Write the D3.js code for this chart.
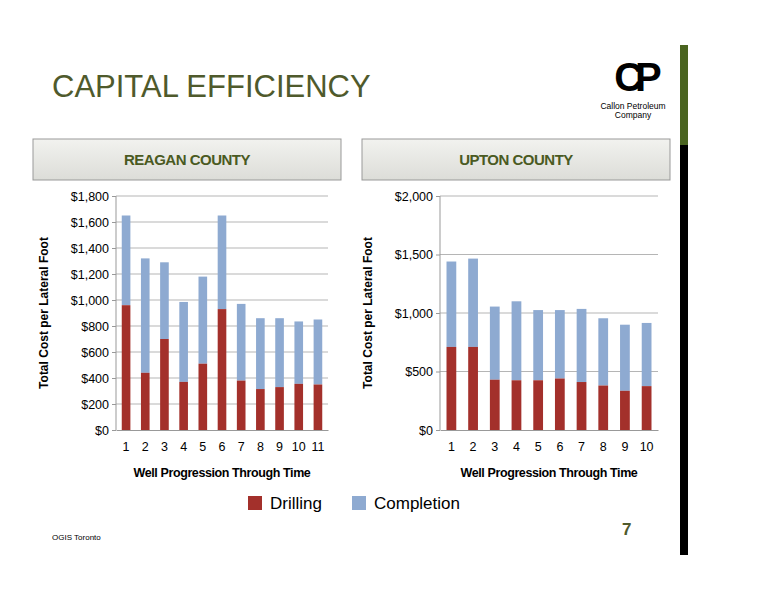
<!DOCTYPE html><html><head><meta charset="utf-8"><script src="https://d3js.org/d3.v7.min.js"></script>
<style>body{margin:0;background:#fff}svg{font-family:Arial,"Liberation Sans",sans-serif}</style></head><body><svg width="776" height="600"></svg>
<script>
const reaganWells=["1","2","3","4","5","6","7","8","9","10","11"];
const reaganDrilling=[960,440,700,370,510,930,380,315,330,355,350];
const reaganTotal=[1650,1320,1290,985,1180,1650,970,860,860,835,850];
const uptonWells=["1","2","3","4","5","6","7","8","9","10"];
const uptonDrilling=[710,710,430,425,425,440,410,380,335,375];
const uptonTotal=[1440,1465,1055,1100,1025,1025,1035,955,900,915];
const reaganTicks=[0,200,400,600,800,1000,1200,1400,1600,1800];
const uptonTicks=[0,500,1000,1500,2000];
const seriesNames=["Drilling","Completion"];
const colors=["#a3302b","#8eaad1"];

const svg=d3.select("svg");
svg.append("rect").attr("x",680).attr("y",45).attr("width",8).attr("height",100).attr("fill","#4a6420");
svg.append("rect").attr("x",680).attr("y",145).attr("width",8).attr("height",410).attr("fill","#000");
svg.append("text").attr("x",52).attr("y",97).attr("font-size",31).attr("fill","#4f5a2c").text("CAPITAL EFFICIENCY");
const lg=svg.append("g");
lg.append("text").attr("x",634).attr("y",91).attr("text-anchor","middle").attr("font-size",40).attr("font-weight","bold").attr("font-family","Arial Black, Arial").attr("letter-spacing",-8).text("CP");
lg.append("text").attr("x",633).attr("y",109).attr("text-anchor","middle").attr("font-size",8.5).text("Callon Petroleum");
lg.append("text").attr("x",633).attr("y",118).attr("text-anchor","middle").attr("font-size",8.5).text("Company");
const grad=svg.append("defs").append("linearGradient").attr("id","g").attr("x1",0).attr("y1",0).attr("x2",0).attr("y2",1);
grad.append("stop").attr("offset","0").attr("stop-color","#f2f2ef");grad.append("stop").attr("offset","1").attr("stop-color","#dcddd8");

function panel(x0,title,wells,drill,total,ticks,ymax,pl,pr){
  svg.append("rect").attr("x",x0).attr("y",139).attr("width",308).attr("height",41).attr("fill","url(#g)").attr("stroke","#999");
  svg.append("text").attr("x",x0+154).attr("y",165).attr("text-anchor","middle").attr("font-size",15).attr("font-weight","bold").attr("fill","#4a5a22").attr("letter-spacing",-0.5).text(title);
  const x=d3.scaleBand().domain(wells).range([pl,pr]).paddingInner(0.55).paddingOuter(0.3);
  const y=d3.scaleLinear().domain([0,ymax]).range([430,196]);
  const g=svg.append("g");
  g.append("g").selectAll("line").data(ticks.slice(1)).join("line").attr("x1",pl).attr("x2",pr).attr("y1",d=>y(d)).attr("y2",d=>y(d)).attr("stroke","#b5b5b5");
  g.append("line").attr("x1",pl).attr("x2",pl).attr("y1",196).attr("y2",430).attr("stroke","#999");
  g.append("g").attr("transform","translate(0,430)").call(d3.axisBottom(x).tickSize(0).tickPadding(12)).call(a=>a.select(".domain").attr("stroke","#999")).selectAll("text").attr("font-size",12.5).attr("fill","#000");
  g.append("g").attr("transform",`translate(${pl},0)`).call(d3.axisLeft(y).tickValues(ticks).tickSize(4).tickFormat(d=>"$"+d3.format(",")(d))).call(a=>a.select(".domain").remove()).call(a=>a.selectAll("line").attr("stroke","#999")).selectAll("text").attr("font-size",12.5).attr("fill","#000");
  wells.forEach((w,i)=>{
    g.append("rect").attr("x",x(w)).attr("width",x.bandwidth()).attr("y",y(total[i])).attr("height",y(drill[i])-y(total[i])).attr("fill",colors[1]);
    g.append("rect").attr("x",x(w)).attr("width",x.bandwidth()).attr("y",y(drill[i])).attr("height",430-y(drill[i])).attr("fill",colors[0]);
  });
  g.append("text").attr("x",(pl+pr)/2).attr("y",477).attr("text-anchor","middle").attr("font-size",12.5).attr("font-weight","bold").attr("letter-spacing",-0.4).text("Well Progression Through Time");
  g.append("text").attr("transform",`translate(${pl-68},313) rotate(-90)`).attr("text-anchor","middle").attr("font-size",12).attr("font-weight","bold").text("Total Cost per Lateral Foot");
}
panel(33,"REAGAN COUNTY",reaganWells,reaganDrilling,reaganTotal,reaganTicks,1800,116,328);
panel(362,"UPTON COUNTY",uptonWells,uptonDrilling,uptonTotal,uptonTicks,2000,440,658);

const lgd=svg.append("g").attr("transform","translate(248,496)");
seriesNames.forEach((n,i)=>{
  const xo=i?104:0;
  lgd.append("rect").attr("x",xo).attr("y",0).attr("width",14).attr("height",14).attr("fill",colors[i]);
  lgd.append("text").attr("x",xo+22).attr("y",13).attr("font-size",17).text(n);
});
svg.append("text").attr("x",52).attr("y",540).attr("font-size",8).text("OGIS Toronto");
svg.append("text").attr("x",622).attr("y",535).attr("font-size",17).attr("font-weight","bold").attr("fill","#4f5a2c").text("7");
</script></body></html>
